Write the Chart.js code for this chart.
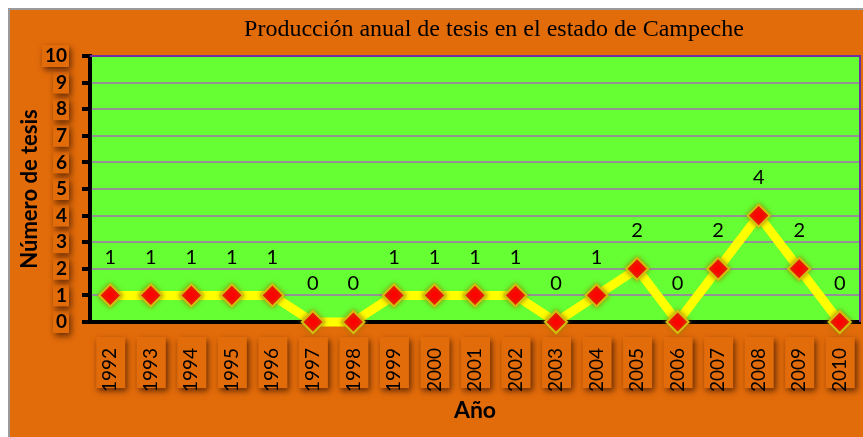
<!DOCTYPE html>
<html>
<head>
<meta charset="utf-8">
<script src="https://cdn.jsdelivr.net/npm/chart.js@4/dist/chart.umd.min.js"></script>
<style>
  html, body { margin: 0; padding: 0; background: #ffffff; }
  #wrap { width: 863px; height: 437px; }
</style>
</head>
<body>
<div id="wrap"><canvas id="c" width="863" height="437"></canvas></div>
<script>
// Tesis producidas por año
const years = ['1992','1993','1994','1995','1996','1997','1998','1999','2000','2001',
               '2002','2003','2004','2005','2006','2007','2008','2009','2010'];
const tesis = [1,1,1,1,1,0,0,1,1,1,1,0,1,2,0,2,4,2,0];
const yTicks = [0,1,2,3,4,5,6,7,8,9,10];

const ORANGE = '#E36C0A';
const GREEN = '#66FF33';
const LABEL_FONT = 'Lato';

// Fondo, marco y recuadros sombreados detrás de las etiquetas de los ejes
const backdrop = {
  id: 'backdrop',
  beforeDraw(chart) {
    const { ctx, chartArea: a, scales } = chart;
    ctx.save();
    ctx.fillStyle = '#ffffff';
    ctx.fillRect(0, 0, chart.width, chart.height);
    ctx.fillStyle = ORANGE;
    ctx.fillRect(10, 10, chart.width - 10, chart.height - 10);
    ctx.strokeStyle = '#9a9a9a';
    ctx.lineWidth = 2;
    ctx.beginPath();
    ctx.moveTo(9, chart.height);
    ctx.lineTo(9, 9);
    ctx.lineTo(chart.width, 9);
    ctx.stroke();

    // recuadros de las etiquetas del eje Y
    ctx.shadowColor = 'rgba(60,20,0,0.75)';
    ctx.shadowBlur = 6;
    ctx.shadowOffsetX = 2;
    ctx.shadowOffsetY = 3;
    ctx.fillStyle = ORANGE;
    const ys = scales.y;
    ctx.font = 'bold 19px ' + LABEL_FONT;
    ys.ticks.forEach((t, i) => {
      const py = ys.getPixelForTick(i);
      const w = ctx.measureText(String(t.value)).width;
      const right = a.left - 8 - 15;
      ctx.fillRect(right - w - 3, py - 11, w + 5, 22);
    });
    // recuadros de las etiquetas del eje X
    const xs = scales.x;
    ctx.font = '19px ' + LABEL_FONT;
    years.forEach((y, i) => {
      const px = xs.getPixelForTick(i);
      const len = ctx.measureText(y).width;
      const top = a.bottom + 18 - 3;
      ctx.fillRect(px - 14, top, 29, len + 7);
    });
    ctx.restore();

    ctx.save();
    ctx.fillStyle = GREEN;
    ctx.fillRect(a.left, a.top, a.right - a.left, a.bottom - a.top);
    ctx.restore();

    // título
    ctx.save();
    ctx.fillStyle = '#000000';
    ctx.font = '24px "Liberation Serif"';
    ctx.textAlign = 'center';
    ctx.textBaseline = 'middle';
    ctx.fillText('Producción anual de tesis en el estado de Campeche', 494, 30);
    ctx.restore();
  },
  beforeDatasetsDraw(chart) {
    const { ctx, chartArea: a } = chart;
    ctx.save();
    ctx.strokeStyle = '#7030A0';
    ctx.lineWidth = 2;
    ctx.beginPath();
    ctx.moveTo(a.left, a.top);
    ctx.lineTo(a.right, a.top);
    ctx.lineTo(a.right, a.bottom);
    ctx.stroke();
    ctx.restore();
  },
  afterDatasetsDraw(chart) {
    const { ctx } = chart;
    const meta = chart.getDatasetMeta(1);
    ctx.save();
    ctx.fillStyle = '#000000';
    ctx.font = '20px ' + LABEL_FONT;
    ctx.textAlign = 'center';
    ctx.textBaseline = 'middle';
    meta.data.forEach((pt, i) => {
      ctx.fillText(String(tesis[i]), pt.x, pt.y - 38);
    });
    ctx.restore();
  }
};

// halo suave alrededor de los marcadores
const markerGlow = {
  id: 'markerGlow',
  beforeDatasetDraw(chart, args) {
    if (args.index === 1) {
      const ctx = chart.ctx;
      ctx.save();
      ctx.shadowColor = 'rgba(150,120,0,0.8)';
      ctx.shadowBlur = 5;
    }
  },
  afterDatasetDraw(chart, args) {
    if (args.index === 1) chart.ctx.restore();
  }
};

new Chart(document.getElementById('c'), {
  type: 'line',
  data: {
    labels: years,
    datasets: [
      {
        data: tesis,
        order: 2,
        clip: false,
        borderColor: '#FFFF00',
        borderWidth: 9,
        tension: 0,
        pointRadius: 0,
        pointHoverRadius: 0
      },
      {
        data: tesis,
        order: 1,
        clip: false,
        showLine: false,
        pointStyle: 'rectRot',
        pointRadius: 11,
        pointBackgroundColor: '#FF0000',
        pointBorderColor: '#D4BE10',
        pointBorderWidth: 2
      }
    ]
  },
  options: {
    responsive: false,
    animation: false,
    events: [],
    layout: { autoPadding: false, padding: { left: 10, top: 56, right: 3, bottom: 0 } },
    plugins: {
      legend: { display: false },
      title: { display: false },
      tooltip: { enabled: false }
    },
    scales: {
      x: {
        type: 'category',
        offset: true,
        grid: { display: false },
        border: { display: true, color: '#000000', width: 4 },
        ticks: {
          color: '#000000',
          font: { family: LABEL_FONT, size: 19 },
          maxRotation: 90,
          minRotation: 90,
          padding: 18,
          autoSkip: false
        },
        title: {
          display: true,
          text: 'Año',
          color: '#000000',
          font: { family: LABEL_FONT, size: 23, weight: 'bold' },
          padding: { top: 0, bottom: 13 }
        },
        afterFit(s) {
          s.height = 115;
          s.paddingLeft = 0;
          s.paddingRight = 0;
        }
      },
      y: {
        min: 0,
        max: 10,
        afterBuildTicks(s) { s.ticks = yTicks.map(v => ({ value: v })); },
        grid: {
          color: '#939393',
          lineWidth: 2,
          tickColor: '#000000',
          tickWidth: 4,
          tickLength: 8
        },
        border: { display: true, color: '#000000', width: 4 },
        ticks: {
          color: '#000000',
          font: { family: LABEL_FONT, size: 19, weight: 'bold' },
          padding: 15
        },
        title: {
          display: true,
          text: 'Número de tesis',
          color: '#000000',
          font: { family: LABEL_FONT, size: 22, weight: 'bold' },
          padding: { top: 7, bottom: 0 }
        },
        afterFit(s) {
          s.width = 80;
          s.paddingTop = 0;
          s.paddingBottom = 0;
        }
      }
    }
  },
  plugins: [backdrop, markerGlow]
});
</script>
</body>
</html>
